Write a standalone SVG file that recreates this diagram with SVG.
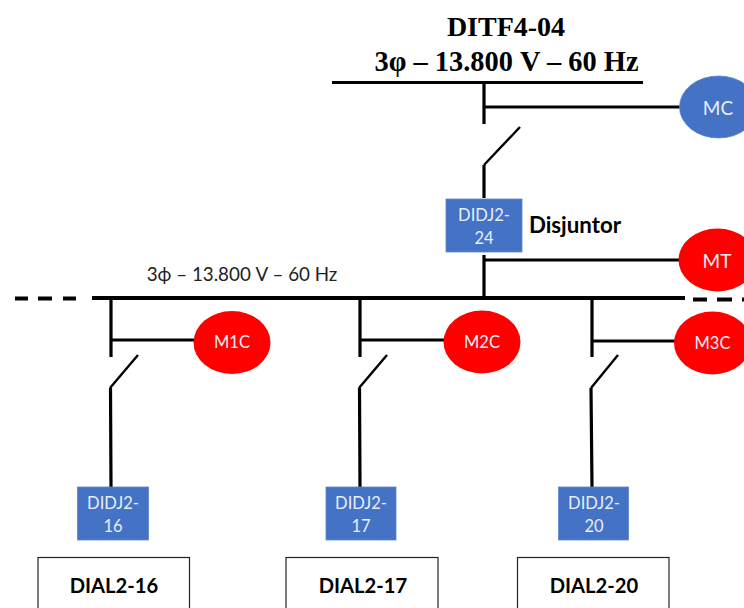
<svg xmlns="http://www.w3.org/2000/svg" width="744" height="608" viewBox="0 0 744 608">
<style>
.w{fill:none;stroke:#000;stroke-width:3.2}
.s{fill:none;stroke:#000;stroke-width:2.4}
.bus{fill:none;stroke:#000;stroke-width:4}
.t{font-family:"Lato","Open Sans",sans-serif;text-anchor:middle;fill:#e8eef8;font-size:16.5px}
.m{font-size:19px}
.b{font-family:"Lato","Open Sans",sans-serif;text-anchor:middle;fill:#000;font-weight:700;font-size:20.2px}
.d{font-size:22.3px}
.h{font-family:"Liberation Serif",serif;text-anchor:middle;fill:#000;font-weight:700;font-size:28px}
.h2{font-size:28.4px}
.blue{fill:#4472c4;stroke:#5b85cf;stroke-width:.8}
.red{fill:#f00}
.dial{fill:#fff;stroke:#222;stroke-width:1.2}
</style>
<rect width="744" height="608" fill="#fff"/>
<g id="connectors">
<path class="w" d="M332 82.500H643"/>
<path class="w" d="M484 83V124M484 107H680M484 198V165"/>
<path class="s" d="M520 127L484 165"/>
<path class="w" d="M484 255V298M484 260H680"/>
<path class="bus" d="M92 298H685"/>
<path class="bus" d="M15 298.500H28M38 298.500H52M63 298.500H76M693 299.500H707M717 299.500H732M742 299.500H744"/>
<path class="w" d="M111 298V357M111 340H194M110.500 388L111 487"/>
<path class="s" d="M138 355L110 388"/>
<path class="w" d="M360 298V357M360 340H445M359.500 388L360 487"/>
<path class="s" d="M387 355L359 388"/>
<path class="w" d="M592 298V357M592 341H675M591 388L592 487"/>
<path class="s" d="M618 355L591 388"/>
</g>
<g id="title">
<text class="h" x="506" y="36">DITF4-04</text>
<text class="h h2" x="506.500" y="70.500">3φ – 13.800 V – 60 Hz</text>
</g>
<g id="bus-label"><text x="242" y="281" text-anchor="middle" font-family="Lato,'Open Sans',sans-serif" font-size="18.800" fill="#222">3ϕ – 13.800 V – 60 Hz</text></g>
<g id="MC"><ellipse class="blue" cx="718.500" cy="107" rx="39" ry="31"/><text class="t m" x="718" y="115">MC</text></g>
<g id="MT"><ellipse class="red" cx="717.500" cy="260" rx="39" ry="31.500"/><text class="t m" x="717" y="268">MT</text></g>
<g id="M1C"><ellipse class="red" cx="232" cy="342.500" rx="38.500" ry="31.500"/><text class="t" x="232" y="348">M1C</text></g>
<g id="M2C"><ellipse class="red" cx="482" cy="342" rx="38.500" ry="31.500"/><text class="t" x="482" y="348">M2C</text></g>
<g id="M3C"><ellipse class="red" cx="712.500" cy="343" rx="38.500" ry="31.500"/><text class="t" x="712.500" y="349">M3C</text></g>
<g id="DIDJ2-24"><rect class="blue" x="446" y="199" width="76" height="53"/><text class="t" x="484" y="221">DIDJ2-</text><text class="t" x="484" y="244">24</text></g>
<g id="disjuntor"><text class="b d" x="575" y="233">Disjuntor</text></g>
<g id="DIDJ2-16"><rect class="blue" x="77.500" y="487" width="71" height="53"/><text class="t" x="113" y="509">DIDJ2-</text><text class="t" x="113" y="532">16</text></g>
<g id="DIDJ2-17"><rect class="blue" x="326" y="487" width="70" height="53"/><text class="t" x="361" y="509">DIDJ2-</text><text class="t" x="361" y="532">17</text></g>
<g id="DIDJ2-20"><rect class="blue" x="558.500" y="487" width="70" height="53"/><text class="t" x="594" y="509">DIDJ2-</text><text class="t" x="594" y="532">20</text></g>
<g id="DIAL2-16"><rect class="dial" x="38" y="557.500" width="151.500" height="60"/><text class="b" x="114" y="593">DIAL2-16</text></g>
<g id="DIAL2-17"><rect class="dial" x="286" y="557.500" width="152" height="60"/><text class="b" x="363" y="593">DIAL2-17</text></g>
<g id="DIAL2-20"><rect class="dial" x="517.500" y="557.500" width="151.500" height="60"/><text class="b" x="594" y="593">DIAL2-20</text></g>
</svg>
